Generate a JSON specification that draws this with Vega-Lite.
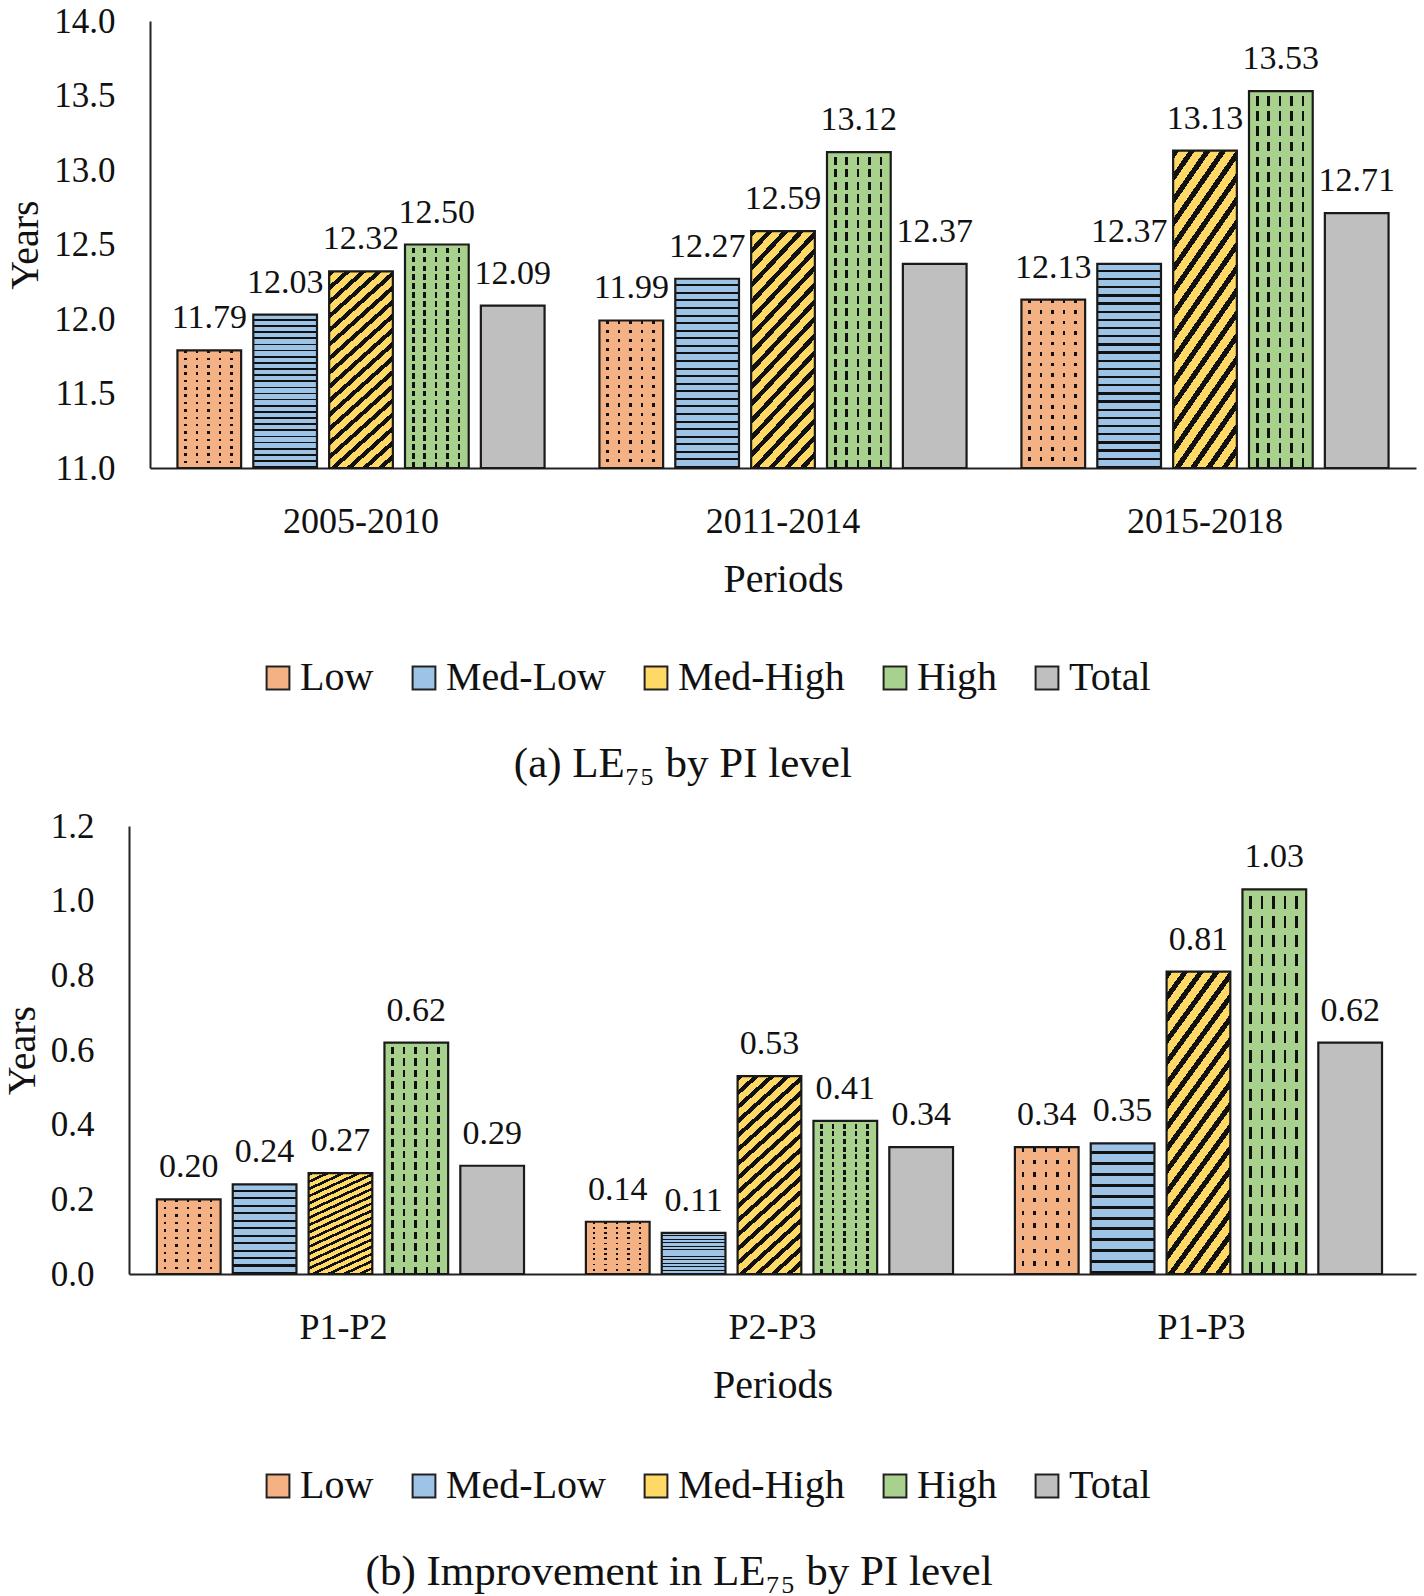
{
  "$schema": "https://vega.github.io/schema/vega-lite/v6.json",
  "padding": {"left": 2, "top": 4, "right": 4, "bottom": 2},
  "spacing": 23,
  "config": {
    "font": "Liberation Serif",
    "view": {"stroke": null},
    "axis": {"labelFont": "Liberation Serif", "titleFont": "Liberation Serif", "labelColor": "#111", "titleColor": "#111", "titleFontWeight": "normal", "domainColor": "#222", "domainWidth": 2, "ticks": false, "grid": false},
    "legend": {"labelFont": "Liberation Serif", "labelFontSize": 40, "labelColor": "#111", "labelLimit": 0, "symbolType": "square", "symbolSize": 520, "symbolStrokeColor": "#222", "symbolStrokeWidth": 2, "direction": "horizontal", "title": null, "columnPadding": 30, "labelOffset": 2},
    "title": {"font": "Liberation Serif", "fontSize": 43, "fontWeight": "normal", "color": "#111", "orient": "bottom", "anchor": "middle", "frame": "bounds"}
  },
  "datasets": {
    "a": [
      {"period": "2005-2010", "level": "Low", "value": 11.79},
      {"period": "2005-2010", "level": "Med-Low", "value": 12.03},
      {"period": "2005-2010", "level": "Med-High", "value": 12.32},
      {"period": "2005-2010", "level": "High", "value": 12.50},
      {"period": "2005-2010", "level": "Total", "value": 12.09},
      {"period": "2011-2014", "level": "Low", "value": 11.99},
      {"period": "2011-2014", "level": "Med-Low", "value": 12.27},
      {"period": "2011-2014", "level": "Med-High", "value": 12.59},
      {"period": "2011-2014", "level": "High", "value": 13.12},
      {"period": "2011-2014", "level": "Total", "value": 12.37},
      {"period": "2015-2018", "level": "Low", "value": 12.13},
      {"period": "2015-2018", "level": "Med-Low", "value": 12.37},
      {"period": "2015-2018", "level": "Med-High", "value": 13.13},
      {"period": "2015-2018", "level": "High", "value": 13.53},
      {"period": "2015-2018", "level": "Total", "value": 12.71}
    ],
    "b": [
      {"period": "P1-P2", "level": "Low", "value": 0.20},
      {"period": "P1-P2", "level": "Med-Low", "value": 0.24},
      {"period": "P1-P2", "level": "Med-High", "value": 0.27},
      {"period": "P1-P2", "level": "High", "value": 0.62},
      {"period": "P1-P2", "level": "Total", "value": 0.29},
      {"period": "P2-P3", "level": "Low", "value": 0.14},
      {"period": "P2-P3", "level": "Med-Low", "value": 0.11},
      {"period": "P2-P3", "level": "Med-High", "value": 0.53},
      {"period": "P2-P3", "level": "High", "value": 0.41},
      {"period": "P2-P3", "level": "Total", "value": 0.34},
      {"period": "P1-P3", "level": "Low", "value": 0.34},
      {"period": "P1-P3", "level": "Med-Low", "value": 0.35},
      {"period": "P1-P3", "level": "Med-High", "value": 0.81},
      {"period": "P1-P3", "level": "High", "value": 1.03},
      {"period": "P1-P3", "level": "Total", "value": 0.62}
    ]
  },
  "vconcat": [
    {
      "width": 1287,
      "height": 447,
      "data": {"name": "a"},
      "title": {"text": "(a) LE₇₅ by PI level", "offset": 45, "dx": -28},
      "encoding": {
        "x": {"field": "period", "type": "nominal", "sort": null,
              "scale": {"range": [21, 1287], "paddingInner": 0.13, "paddingOuter": 0.065},
              "axis": {"title": "Periods", "labelAngle": 0, "labelFontSize": 36, "titleFontSize": 40, "labelPadding": 36, "titlePadding": 20}},
        "xOffset": {"field": "level", "scale": {"domain": ["Low", "Med-Low", "Med-High", "High", "Total"], "paddingInner": 0.16}},
        "y": {"field": "value", "type": "quantitative", "scale": {"domain": [11, 14], "nice": false, "zero": false},
              "axis": {"title": "Years", "offset": -21, "values": [11, 11.5, 12, 12.5, 13, 13.5, 14], "format": ".1f", "labelFontSize": 35, "titleFontSize": 40, "labelPadding": 35, "titlePadding": 8}}
      },
      "layer": [
        {
          "mark": {"type": "bar", "strokeWidth": 0},
          "encoding": {
            "y2": {"datum": 11},
            "color": {"field": "level", "type": "nominal",
                      "scale": {"domain": ["Low", "Med-Low", "Med-High", "High", "Total"], "range": ["#F4B183", "#9DC3E6", "#FFD966", "#A9D18E", "#BFBFBF"]},
                      "legend": {"orient": "none", "legendX": 129, "legendY": 637}}
          }
        },
        {
          "transform": [{"filter": "datum.level === 'Low' || datum.level === 'High'"}],
          "mark": {"type": "bar", "fill": {"gradient": "linear", "x1": 0, "y1": 0, "x2": 1, "y2": 0, "stops": [
            {"offset": 0, "color": "rgba(0,0,0,0)"}, {"offset": 0.11, "color": "rgba(0,0,0,0)"}, {"offset": 0.11, "color": "#111"}, {"offset": 0.15, "color": "#111"},
            {"offset": 0.15, "color": "rgba(0,0,0,0)"}, {"offset": 0.29, "color": "rgba(0,0,0,0)"}, {"offset": 0.29, "color": "#111"}, {"offset": 0.33, "color": "#111"},
            {"offset": 0.33, "color": "rgba(0,0,0,0)"}, {"offset": 0.47, "color": "rgba(0,0,0,0)"}, {"offset": 0.47, "color": "#111"}, {"offset": 0.51, "color": "#111"},
            {"offset": 0.51, "color": "rgba(0,0,0,0)"}, {"offset": 0.65, "color": "rgba(0,0,0,0)"}, {"offset": 0.65, "color": "#111"}, {"offset": 0.69, "color": "#111"},
            {"offset": 0.69, "color": "rgba(0,0,0,0)"}, {"offset": 0.83, "color": "rgba(0,0,0,0)"}, {"offset": 0.83, "color": "#111"}, {"offset": 0.87, "color": "#111"},
            {"offset": 0.87, "color": "rgba(0,0,0,0)"}, {"offset": 1, "color": "rgba(0,0,0,0)"}]}},
          "encoding": {"y2": {"datum": 11}}
        },
        {
          "transform": [{"filter": "datum.level === 'Low'"}],
          "mark": {"type": "bar", "fill": {"gradient": "linear", "x1": 0, "y1": 0, "x2": 0, "y2": 1, "stops": [
            {"offset": 0, "color": "rgba(0,0,0,0)"}, {"offset": 0.022, "color": "rgba(0,0,0,0)"}, {"offset": 0.022, "color": "#F4B183"}, {"offset": 0.0625, "color": "#F4B183"},
            {"offset": 0.0625, "color": "rgba(0,0,0,0)"}, {"offset": 0.0845, "color": "rgba(0,0,0,0)"}, {"offset": 0.0845, "color": "#F4B183"}, {"offset": 0.125, "color": "#F4B183"},
            {"offset": 0.125, "color": "rgba(0,0,0,0)"}, {"offset": 0.147, "color": "rgba(0,0,0,0)"}, {"offset": 0.147, "color": "#F4B183"}, {"offset": 0.1875, "color": "#F4B183"},
            {"offset": 0.1875, "color": "rgba(0,0,0,0)"}, {"offset": 0.2095, "color": "rgba(0,0,0,0)"}, {"offset": 0.2095, "color": "#F4B183"}, {"offset": 0.25, "color": "#F4B183"},
            {"offset": 0.25, "color": "rgba(0,0,0,0)"}, {"offset": 0.272, "color": "rgba(0,0,0,0)"}, {"offset": 0.272, "color": "#F4B183"}, {"offset": 0.3125, "color": "#F4B183"},
            {"offset": 0.3125, "color": "rgba(0,0,0,0)"}, {"offset": 0.3345, "color": "rgba(0,0,0,0)"}, {"offset": 0.3345, "color": "#F4B183"}, {"offset": 0.375, "color": "#F4B183"},
            {"offset": 0.375, "color": "rgba(0,0,0,0)"}, {"offset": 0.397, "color": "rgba(0,0,0,0)"}, {"offset": 0.397, "color": "#F4B183"}, {"offset": 0.4375, "color": "#F4B183"},
            {"offset": 0.4375, "color": "rgba(0,0,0,0)"}, {"offset": 0.4595, "color": "rgba(0,0,0,0)"}, {"offset": 0.4595, "color": "#F4B183"}, {"offset": 0.5, "color": "#F4B183"},
            {"offset": 0.5, "color": "rgba(0,0,0,0)"}, {"offset": 0.522, "color": "rgba(0,0,0,0)"}, {"offset": 0.522, "color": "#F4B183"}, {"offset": 0.5625, "color": "#F4B183"},
            {"offset": 0.5625, "color": "rgba(0,0,0,0)"}, {"offset": 0.5845, "color": "rgba(0,0,0,0)"}, {"offset": 0.5845, "color": "#F4B183"}, {"offset": 0.625, "color": "#F4B183"},
            {"offset": 0.625, "color": "rgba(0,0,0,0)"}, {"offset": 0.647, "color": "rgba(0,0,0,0)"}, {"offset": 0.647, "color": "#F4B183"}, {"offset": 0.6875, "color": "#F4B183"},
            {"offset": 0.6875, "color": "rgba(0,0,0,0)"}, {"offset": 0.7095, "color": "rgba(0,0,0,0)"}, {"offset": 0.7095, "color": "#F4B183"}, {"offset": 0.75, "color": "#F4B183"},
            {"offset": 0.75, "color": "rgba(0,0,0,0)"}, {"offset": 0.772, "color": "rgba(0,0,0,0)"}, {"offset": 0.772, "color": "#F4B183"}, {"offset": 0.8125, "color": "#F4B183"},
            {"offset": 0.8125, "color": "rgba(0,0,0,0)"}, {"offset": 0.8345, "color": "rgba(0,0,0,0)"}, {"offset": 0.8345, "color": "#F4B183"}, {"offset": 0.875, "color": "#F4B183"},
            {"offset": 0.875, "color": "rgba(0,0,0,0)"}, {"offset": 0.897, "color": "rgba(0,0,0,0)"}, {"offset": 0.897, "color": "#F4B183"}, {"offset": 0.9375, "color": "#F4B183"},
            {"offset": 0.9375, "color": "rgba(0,0,0,0)"}, {"offset": 0.9595, "color": "rgba(0,0,0,0)"}, {"offset": 0.9595, "color": "#F4B183"}, {"offset": 1, "color": "#F4B183"}]}},
          "encoding": {"y2": {"datum": 11}}
        },
        {
          "transform": [{"filter": "datum.level === 'High'"}],
          "mark": {"type": "bar", "fill": {"gradient": "linear", "x1": 0, "y1": 0, "x2": 0, "y2": 1, "stops": [
            {"offset": 0, "color": "#A9D18E"}, {"offset": 0.014, "color": "#A9D18E"}, {"offset": 0.014, "color": "rgba(0,0,0,0)"}, {"offset": 0.04, "color": "rgba(0,0,0,0)"},
            {"offset": 0.04, "color": "#A9D18E"}, {"offset": 0.054, "color": "#A9D18E"}, {"offset": 0.054, "color": "rgba(0,0,0,0)"}, {"offset": 0.08, "color": "rgba(0,0,0,0)"},
            {"offset": 0.08, "color": "#A9D18E"}, {"offset": 0.094, "color": "#A9D18E"}, {"offset": 0.094, "color": "rgba(0,0,0,0)"}, {"offset": 0.12, "color": "rgba(0,0,0,0)"},
            {"offset": 0.12, "color": "#A9D18E"}, {"offset": 0.134, "color": "#A9D18E"}, {"offset": 0.134, "color": "rgba(0,0,0,0)"}, {"offset": 0.16, "color": "rgba(0,0,0,0)"},
            {"offset": 0.16, "color": "#A9D18E"}, {"offset": 0.174, "color": "#A9D18E"}, {"offset": 0.174, "color": "rgba(0,0,0,0)"}, {"offset": 0.2, "color": "rgba(0,0,0,0)"},
            {"offset": 0.2, "color": "#A9D18E"}, {"offset": 0.214, "color": "#A9D18E"}, {"offset": 0.214, "color": "rgba(0,0,0,0)"}, {"offset": 0.24, "color": "rgba(0,0,0,0)"},
            {"offset": 0.24, "color": "#A9D18E"}, {"offset": 0.254, "color": "#A9D18E"}, {"offset": 0.254, "color": "rgba(0,0,0,0)"}, {"offset": 0.28, "color": "rgba(0,0,0,0)"},
            {"offset": 0.28, "color": "#A9D18E"}, {"offset": 0.294, "color": "#A9D18E"}, {"offset": 0.294, "color": "rgba(0,0,0,0)"}, {"offset": 0.32, "color": "rgba(0,0,0,0)"},
            {"offset": 0.32, "color": "#A9D18E"}, {"offset": 0.334, "color": "#A9D18E"}, {"offset": 0.334, "color": "rgba(0,0,0,0)"}, {"offset": 0.36, "color": "rgba(0,0,0,0)"},
            {"offset": 0.36, "color": "#A9D18E"}, {"offset": 0.374, "color": "#A9D18E"}, {"offset": 0.374, "color": "rgba(0,0,0,0)"}, {"offset": 0.4, "color": "rgba(0,0,0,0)"},
            {"offset": 0.4, "color": "#A9D18E"}, {"offset": 0.414, "color": "#A9D18E"}, {"offset": 0.414, "color": "rgba(0,0,0,0)"}, {"offset": 0.44, "color": "rgba(0,0,0,0)"},
            {"offset": 0.44, "color": "#A9D18E"}, {"offset": 0.454, "color": "#A9D18E"}, {"offset": 0.454, "color": "rgba(0,0,0,0)"}, {"offset": 0.48, "color": "rgba(0,0,0,0)"},
            {"offset": 0.48, "color": "#A9D18E"}, {"offset": 0.494, "color": "#A9D18E"}, {"offset": 0.494, "color": "rgba(0,0,0,0)"}, {"offset": 0.52, "color": "rgba(0,0,0,0)"},
            {"offset": 0.52, "color": "#A9D18E"}, {"offset": 0.534, "color": "#A9D18E"}, {"offset": 0.534, "color": "rgba(0,0,0,0)"}, {"offset": 0.56, "color": "rgba(0,0,0,0)"},
            {"offset": 0.56, "color": "#A9D18E"}, {"offset": 0.574, "color": "#A9D18E"}, {"offset": 0.574, "color": "rgba(0,0,0,0)"}, {"offset": 0.6, "color": "rgba(0,0,0,0)"},
            {"offset": 0.6, "color": "#A9D18E"}, {"offset": 0.614, "color": "#A9D18E"}, {"offset": 0.614, "color": "rgba(0,0,0,0)"}, {"offset": 0.64, "color": "rgba(0,0,0,0)"},
            {"offset": 0.64, "color": "#A9D18E"}, {"offset": 0.654, "color": "#A9D18E"}, {"offset": 0.654, "color": "rgba(0,0,0,0)"}, {"offset": 0.68, "color": "rgba(0,0,0,0)"},
            {"offset": 0.68, "color": "#A9D18E"}, {"offset": 0.694, "color": "#A9D18E"}, {"offset": 0.694, "color": "rgba(0,0,0,0)"}, {"offset": 0.72, "color": "rgba(0,0,0,0)"},
            {"offset": 0.72, "color": "#A9D18E"}, {"offset": 0.734, "color": "#A9D18E"}, {"offset": 0.734, "color": "rgba(0,0,0,0)"}, {"offset": 0.76, "color": "rgba(0,0,0,0)"},
            {"offset": 0.76, "color": "#A9D18E"}, {"offset": 0.774, "color": "#A9D18E"}, {"offset": 0.774, "color": "rgba(0,0,0,0)"}, {"offset": 0.8, "color": "rgba(0,0,0,0)"},
            {"offset": 0.8, "color": "#A9D18E"}, {"offset": 0.814, "color": "#A9D18E"}, {"offset": 0.814, "color": "rgba(0,0,0,0)"}, {"offset": 0.84, "color": "rgba(0,0,0,0)"},
            {"offset": 0.84, "color": "#A9D18E"}, {"offset": 0.854, "color": "#A9D18E"}, {"offset": 0.854, "color": "rgba(0,0,0,0)"}, {"offset": 0.88, "color": "rgba(0,0,0,0)"},
            {"offset": 0.88, "color": "#A9D18E"}, {"offset": 0.894, "color": "#A9D18E"}, {"offset": 0.894, "color": "rgba(0,0,0,0)"}, {"offset": 0.92, "color": "rgba(0,0,0,0)"},
            {"offset": 0.92, "color": "#A9D18E"}, {"offset": 0.934, "color": "#A9D18E"}, {"offset": 0.934, "color": "rgba(0,0,0,0)"}, {"offset": 0.96, "color": "rgba(0,0,0,0)"},
            {"offset": 0.96, "color": "#A9D18E"}, {"offset": 0.974, "color": "#A9D18E"}, {"offset": 0.974, "color": "rgba(0,0,0,0)"}, {"offset": 1, "color": "rgba(0,0,0,0)"}]}},
          "encoding": {"y2": {"datum": 11}}
        },
        {
          "transform": [{"filter": "datum.level === 'Med-Low'"}],
          "mark": {"type": "bar", "fill": {"gradient": "linear", "x1": 0, "y1": 0, "x2": 0, "y2": 1, "stops": [
            {"offset": 0, "color": "rgba(0,0,0,0)"}, {"offset": 0.029, "color": "rgba(0,0,0,0)"}, {"offset": 0.029, "color": "#111"}, {"offset": 0.04, "color": "#111"},
            {"offset": 0.04, "color": "rgba(0,0,0,0)"}, {"offset": 0.069, "color": "rgba(0,0,0,0)"}, {"offset": 0.069, "color": "#111"}, {"offset": 0.08, "color": "#111"},
            {"offset": 0.08, "color": "rgba(0,0,0,0)"}, {"offset": 0.109, "color": "rgba(0,0,0,0)"}, {"offset": 0.109, "color": "#111"}, {"offset": 0.12, "color": "#111"},
            {"offset": 0.12, "color": "rgba(0,0,0,0)"}, {"offset": 0.149, "color": "rgba(0,0,0,0)"}, {"offset": 0.149, "color": "#111"}, {"offset": 0.16, "color": "#111"},
            {"offset": 0.16, "color": "rgba(0,0,0,0)"}, {"offset": 0.189, "color": "rgba(0,0,0,0)"}, {"offset": 0.189, "color": "#111"}, {"offset": 0.2, "color": "#111"},
            {"offset": 0.2, "color": "rgba(0,0,0,0)"}, {"offset": 0.229, "color": "rgba(0,0,0,0)"}, {"offset": 0.229, "color": "#111"}, {"offset": 0.24, "color": "#111"},
            {"offset": 0.24, "color": "rgba(0,0,0,0)"}, {"offset": 0.269, "color": "rgba(0,0,0,0)"}, {"offset": 0.269, "color": "#111"}, {"offset": 0.28, "color": "#111"},
            {"offset": 0.28, "color": "rgba(0,0,0,0)"}, {"offset": 0.309, "color": "rgba(0,0,0,0)"}, {"offset": 0.309, "color": "#111"}, {"offset": 0.32, "color": "#111"},
            {"offset": 0.32, "color": "rgba(0,0,0,0)"}, {"offset": 0.349, "color": "rgba(0,0,0,0)"}, {"offset": 0.349, "color": "#111"}, {"offset": 0.36, "color": "#111"},
            {"offset": 0.36, "color": "rgba(0,0,0,0)"}, {"offset": 0.389, "color": "rgba(0,0,0,0)"}, {"offset": 0.389, "color": "#111"}, {"offset": 0.4, "color": "#111"},
            {"offset": 0.4, "color": "rgba(0,0,0,0)"}, {"offset": 0.429, "color": "rgba(0,0,0,0)"}, {"offset": 0.429, "color": "#111"}, {"offset": 0.44, "color": "#111"},
            {"offset": 0.44, "color": "rgba(0,0,0,0)"}, {"offset": 0.469, "color": "rgba(0,0,0,0)"}, {"offset": 0.469, "color": "#111"}, {"offset": 0.48, "color": "#111"},
            {"offset": 0.48, "color": "rgba(0,0,0,0)"}, {"offset": 0.509, "color": "rgba(0,0,0,0)"}, {"offset": 0.509, "color": "#111"}, {"offset": 0.52, "color": "#111"},
            {"offset": 0.52, "color": "rgba(0,0,0,0)"}, {"offset": 0.549, "color": "rgba(0,0,0,0)"}, {"offset": 0.549, "color": "#111"}, {"offset": 0.56, "color": "#111"},
            {"offset": 0.56, "color": "rgba(0,0,0,0)"}, {"offset": 0.589, "color": "rgba(0,0,0,0)"}, {"offset": 0.589, "color": "#111"}, {"offset": 0.6, "color": "#111"},
            {"offset": 0.6, "color": "rgba(0,0,0,0)"}, {"offset": 0.629, "color": "rgba(0,0,0,0)"}, {"offset": 0.629, "color": "#111"}, {"offset": 0.64, "color": "#111"},
            {"offset": 0.64, "color": "rgba(0,0,0,0)"}, {"offset": 0.669, "color": "rgba(0,0,0,0)"}, {"offset": 0.669, "color": "#111"}, {"offset": 0.68, "color": "#111"},
            {"offset": 0.68, "color": "rgba(0,0,0,0)"}, {"offset": 0.709, "color": "rgba(0,0,0,0)"}, {"offset": 0.709, "color": "#111"}, {"offset": 0.72, "color": "#111"},
            {"offset": 0.72, "color": "rgba(0,0,0,0)"}, {"offset": 0.749, "color": "rgba(0,0,0,0)"}, {"offset": 0.749, "color": "#111"}, {"offset": 0.76, "color": "#111"},
            {"offset": 0.76, "color": "rgba(0,0,0,0)"}, {"offset": 0.789, "color": "rgba(0,0,0,0)"}, {"offset": 0.789, "color": "#111"}, {"offset": 0.8, "color": "#111"},
            {"offset": 0.8, "color": "rgba(0,0,0,0)"}, {"offset": 0.829, "color": "rgba(0,0,0,0)"}, {"offset": 0.829, "color": "#111"}, {"offset": 0.84, "color": "#111"},
            {"offset": 0.84, "color": "rgba(0,0,0,0)"}, {"offset": 0.869, "color": "rgba(0,0,0,0)"}, {"offset": 0.869, "color": "#111"}, {"offset": 0.88, "color": "#111"},
            {"offset": 0.88, "color": "rgba(0,0,0,0)"}, {"offset": 0.909, "color": "rgba(0,0,0,0)"}, {"offset": 0.909, "color": "#111"}, {"offset": 0.92, "color": "#111"},
            {"offset": 0.92, "color": "rgba(0,0,0,0)"}, {"offset": 0.949, "color": "rgba(0,0,0,0)"}, {"offset": 0.949, "color": "#111"}, {"offset": 0.96, "color": "#111"},
            {"offset": 0.96, "color": "rgba(0,0,0,0)"}, {"offset": 0.989, "color": "rgba(0,0,0,0)"}, {"offset": 0.989, "color": "#111"}, {"offset": 1, "color": "#111"}]}},
          "encoding": {"y2": {"datum": 11}}
        },
        {
          "transform": [{"filter": "datum.level === 'Med-High'"}],
          "mark": {"type": "bar", "fill": {"gradient": "linear", "x1": 0, "y1": 0, "x2": 0.345, "y2": 1.19, "stops": [
            {"offset": 0, "color": "#111"}, {"offset": 0.022, "color": "#111"}, {"offset": 0.022, "color": "rgba(0,0,0,0)"}, {"offset": 0.0556, "color": "rgba(0,0,0,0)"},
            {"offset": 0.0556, "color": "#111"}, {"offset": 0.0776, "color": "#111"}, {"offset": 0.0776, "color": "rgba(0,0,0,0)"}, {"offset": 0.1111, "color": "rgba(0,0,0,0)"},
            {"offset": 0.1111, "color": "#111"}, {"offset": 0.1331, "color": "#111"}, {"offset": 0.1331, "color": "rgba(0,0,0,0)"}, {"offset": 0.1667, "color": "rgba(0,0,0,0)"},
            {"offset": 0.1667, "color": "#111"}, {"offset": 0.1887, "color": "#111"}, {"offset": 0.1887, "color": "rgba(0,0,0,0)"}, {"offset": 0.2222, "color": "rgba(0,0,0,0)"},
            {"offset": 0.2222, "color": "#111"}, {"offset": 0.2442, "color": "#111"}, {"offset": 0.2442, "color": "rgba(0,0,0,0)"}, {"offset": 0.2778, "color": "rgba(0,0,0,0)"},
            {"offset": 0.2778, "color": "#111"}, {"offset": 0.2998, "color": "#111"}, {"offset": 0.2998, "color": "rgba(0,0,0,0)"}, {"offset": 0.3333, "color": "rgba(0,0,0,0)"},
            {"offset": 0.3333, "color": "#111"}, {"offset": 0.3553, "color": "#111"}, {"offset": 0.3553, "color": "rgba(0,0,0,0)"}, {"offset": 0.3889, "color": "rgba(0,0,0,0)"},
            {"offset": 0.3889, "color": "#111"}, {"offset": 0.4109, "color": "#111"}, {"offset": 0.4109, "color": "rgba(0,0,0,0)"}, {"offset": 0.4444, "color": "rgba(0,0,0,0)"},
            {"offset": 0.4444, "color": "#111"}, {"offset": 0.4664, "color": "#111"}, {"offset": 0.4664, "color": "rgba(0,0,0,0)"}, {"offset": 0.5, "color": "rgba(0,0,0,0)"},
            {"offset": 0.5, "color": "#111"}, {"offset": 0.522, "color": "#111"}, {"offset": 0.522, "color": "rgba(0,0,0,0)"}, {"offset": 0.5556, "color": "rgba(0,0,0,0)"},
            {"offset": 0.5556, "color": "#111"}, {"offset": 0.5776, "color": "#111"}, {"offset": 0.5776, "color": "rgba(0,0,0,0)"}, {"offset": 0.6111, "color": "rgba(0,0,0,0)"},
            {"offset": 0.6111, "color": "#111"}, {"offset": 0.6331, "color": "#111"}, {"offset": 0.6331, "color": "rgba(0,0,0,0)"}, {"offset": 0.6667, "color": "rgba(0,0,0,0)"},
            {"offset": 0.6667, "color": "#111"}, {"offset": 0.6887, "color": "#111"}, {"offset": 0.6887, "color": "rgba(0,0,0,0)"}, {"offset": 0.7222, "color": "rgba(0,0,0,0)"},
            {"offset": 0.7222, "color": "#111"}, {"offset": 0.7442, "color": "#111"}, {"offset": 0.7442, "color": "rgba(0,0,0,0)"}, {"offset": 0.7778, "color": "rgba(0,0,0,0)"},
            {"offset": 0.7778, "color": "#111"}, {"offset": 0.7998, "color": "#111"}, {"offset": 0.7998, "color": "rgba(0,0,0,0)"}, {"offset": 0.8333, "color": "rgba(0,0,0,0)"},
            {"offset": 0.8333, "color": "#111"}, {"offset": 0.8553, "color": "#111"}, {"offset": 0.8553, "color": "rgba(0,0,0,0)"}, {"offset": 0.8889, "color": "rgba(0,0,0,0)"},
            {"offset": 0.8889, "color": "#111"}, {"offset": 0.9109, "color": "#111"}, {"offset": 0.9109, "color": "rgba(0,0,0,0)"}, {"offset": 0.9444, "color": "rgba(0,0,0,0)"},
            {"offset": 0.9444, "color": "#111"}, {"offset": 0.9664, "color": "#111"}, {"offset": 0.9664, "color": "rgba(0,0,0,0)"}, {"offset": 1, "color": "rgba(0,0,0,0)"}]}},
          "encoding": {"y2": {"datum": 11}}
        },
        {
          "mark": {"type": "bar", "fill": "transparent", "stroke": "#1a1a1a", "strokeWidth": 2.2},
          "encoding": {"y2": {"datum": 11}}
        },
        {
          "mark": {"type": "text", "baseline": "alphabetic", "dy": -22, "fontSize": 34, "color": "#111"},
          "encoding": {"text": {"field": "value", "type": "quantitative", "format": ".2f"}}
        }
      ]
    },
    {
      "width": 1287,
      "height": 448,
      "data": {"name": "b"},
      "title": {"text": "(b) Improvement in LE₇₅ by PI level", "offset": 45, "dx": -30},
      "encoding": {
        "x": {"field": "period", "type": "nominal", "sort": null,
              "scale": {"paddingInner": 0.13, "paddingOuter": 0.065},
              "axis": {"title": "Periods", "labelAngle": 0, "labelFontSize": 36, "titleFontSize": 40, "labelPadding": 36, "titlePadding": 20}},
        "xOffset": {"field": "level", "scale": {"domain": ["Low", "Med-Low", "Med-High", "High", "Total"], "paddingInner": 0.16}},
        "y": {"field": "value", "type": "quantitative", "scale": {"domain": [0, 1.2], "nice": false},
              "axis": {"title": "Years", "values": [0, 0.2, 0.4, 0.6, 0.8, 1.0, 1.2], "format": ".1f", "labelFontSize": 35, "titleFontSize": 40, "labelPadding": 35, "titlePadding": 8}}
      },
      "layer": [
        {
          "mark": {"type": "bar", "strokeWidth": 0},
          "encoding": {
            "color": {"field": "level", "type": "nominal",
                      "scale": {"domain": ["Low", "Med-Low", "Med-High", "High", "Total"], "range": ["#F4B183", "#9DC3E6", "#FFD966", "#A9D18E", "#BFBFBF"]},
                      "legend": {"orient": "none", "legendX": 129, "legendY": 640}}
          }
        },
        {
          "transform": [{"filter": "datum.level === 'Low' || datum.level === 'High'"}],
          "mark": {"type": "bar", "fill": {"gradient": "linear", "x1": 0, "y1": 0, "x2": 1, "y2": 0, "stops": [
            {"offset": 0, "color": "rgba(0,0,0,0)"}, {"offset": 0.11, "color": "rgba(0,0,0,0)"}, {"offset": 0.11, "color": "#111"}, {"offset": 0.15, "color": "#111"},
            {"offset": 0.15, "color": "rgba(0,0,0,0)"}, {"offset": 0.29, "color": "rgba(0,0,0,0)"}, {"offset": 0.29, "color": "#111"}, {"offset": 0.33, "color": "#111"},
            {"offset": 0.33, "color": "rgba(0,0,0,0)"}, {"offset": 0.47, "color": "rgba(0,0,0,0)"}, {"offset": 0.47, "color": "#111"}, {"offset": 0.51, "color": "#111"},
            {"offset": 0.51, "color": "rgba(0,0,0,0)"}, {"offset": 0.65, "color": "rgba(0,0,0,0)"}, {"offset": 0.65, "color": "#111"}, {"offset": 0.69, "color": "#111"},
            {"offset": 0.69, "color": "rgba(0,0,0,0)"}, {"offset": 0.83, "color": "rgba(0,0,0,0)"}, {"offset": 0.83, "color": "#111"}, {"offset": 0.87, "color": "#111"},
            {"offset": 0.87, "color": "rgba(0,0,0,0)"}, {"offset": 1, "color": "rgba(0,0,0,0)"}]}}
        },
        {
          "transform": [{"filter": "datum.level === 'Low'"}],
          "mark": {"type": "bar", "fill": {"gradient": "linear", "x1": 0, "y1": 0, "x2": 0, "y2": 1, "stops": [
            {"offset": 0, "color": "rgba(0,0,0,0)"}, {"offset": 0.035, "color": "rgba(0,0,0,0)"}, {"offset": 0.035, "color": "#F4B183"}, {"offset": 0.1, "color": "#F4B183"},
            {"offset": 0.1, "color": "rgba(0,0,0,0)"}, {"offset": 0.135, "color": "rgba(0,0,0,0)"}, {"offset": 0.135, "color": "#F4B183"}, {"offset": 0.2, "color": "#F4B183"},
            {"offset": 0.2, "color": "rgba(0,0,0,0)"}, {"offset": 0.235, "color": "rgba(0,0,0,0)"}, {"offset": 0.235, "color": "#F4B183"}, {"offset": 0.3, "color": "#F4B183"},
            {"offset": 0.3, "color": "rgba(0,0,0,0)"}, {"offset": 0.335, "color": "rgba(0,0,0,0)"}, {"offset": 0.335, "color": "#F4B183"}, {"offset": 0.4, "color": "#F4B183"},
            {"offset": 0.4, "color": "rgba(0,0,0,0)"}, {"offset": 0.435, "color": "rgba(0,0,0,0)"}, {"offset": 0.435, "color": "#F4B183"}, {"offset": 0.5, "color": "#F4B183"},
            {"offset": 0.5, "color": "rgba(0,0,0,0)"}, {"offset": 0.535, "color": "rgba(0,0,0,0)"}, {"offset": 0.535, "color": "#F4B183"}, {"offset": 0.6, "color": "#F4B183"},
            {"offset": 0.6, "color": "rgba(0,0,0,0)"}, {"offset": 0.635, "color": "rgba(0,0,0,0)"}, {"offset": 0.635, "color": "#F4B183"}, {"offset": 0.7, "color": "#F4B183"},
            {"offset": 0.7, "color": "rgba(0,0,0,0)"}, {"offset": 0.735, "color": "rgba(0,0,0,0)"}, {"offset": 0.735, "color": "#F4B183"}, {"offset": 0.8, "color": "#F4B183"},
            {"offset": 0.8, "color": "rgba(0,0,0,0)"}, {"offset": 0.835, "color": "rgba(0,0,0,0)"}, {"offset": 0.835, "color": "#F4B183"}, {"offset": 0.9, "color": "#F4B183"},
            {"offset": 0.9, "color": "rgba(0,0,0,0)"}, {"offset": 0.935, "color": "rgba(0,0,0,0)"}, {"offset": 0.935, "color": "#F4B183"}, {"offset": 1, "color": "#F4B183"}]}}
        },
        {
          "transform": [{"filter": "datum.level === 'High'"}],
          "mark": {"type": "bar", "fill": {"gradient": "linear", "x1": 0, "y1": 0, "x2": 0, "y2": 1, "stops": [
            {"offset": 0, "color": "#A9D18E"}, {"offset": 0.018, "color": "#A9D18E"}, {"offset": 0.018, "color": "rgba(0,0,0,0)"}, {"offset": 0.05, "color": "rgba(0,0,0,0)"},
            {"offset": 0.05, "color": "#A9D18E"}, {"offset": 0.068, "color": "#A9D18E"}, {"offset": 0.068, "color": "rgba(0,0,0,0)"}, {"offset": 0.1, "color": "rgba(0,0,0,0)"},
            {"offset": 0.1, "color": "#A9D18E"}, {"offset": 0.118, "color": "#A9D18E"}, {"offset": 0.118, "color": "rgba(0,0,0,0)"}, {"offset": 0.15, "color": "rgba(0,0,0,0)"},
            {"offset": 0.15, "color": "#A9D18E"}, {"offset": 0.168, "color": "#A9D18E"}, {"offset": 0.168, "color": "rgba(0,0,0,0)"}, {"offset": 0.2, "color": "rgba(0,0,0,0)"},
            {"offset": 0.2, "color": "#A9D18E"}, {"offset": 0.218, "color": "#A9D18E"}, {"offset": 0.218, "color": "rgba(0,0,0,0)"}, {"offset": 0.25, "color": "rgba(0,0,0,0)"},
            {"offset": 0.25, "color": "#A9D18E"}, {"offset": 0.268, "color": "#A9D18E"}, {"offset": 0.268, "color": "rgba(0,0,0,0)"}, {"offset": 0.3, "color": "rgba(0,0,0,0)"},
            {"offset": 0.3, "color": "#A9D18E"}, {"offset": 0.318, "color": "#A9D18E"}, {"offset": 0.318, "color": "rgba(0,0,0,0)"}, {"offset": 0.35, "color": "rgba(0,0,0,0)"},
            {"offset": 0.35, "color": "#A9D18E"}, {"offset": 0.368, "color": "#A9D18E"}, {"offset": 0.368, "color": "rgba(0,0,0,0)"}, {"offset": 0.4, "color": "rgba(0,0,0,0)"},
            {"offset": 0.4, "color": "#A9D18E"}, {"offset": 0.418, "color": "#A9D18E"}, {"offset": 0.418, "color": "rgba(0,0,0,0)"}, {"offset": 0.45, "color": "rgba(0,0,0,0)"},
            {"offset": 0.45, "color": "#A9D18E"}, {"offset": 0.468, "color": "#A9D18E"}, {"offset": 0.468, "color": "rgba(0,0,0,0)"}, {"offset": 0.5, "color": "rgba(0,0,0,0)"},
            {"offset": 0.5, "color": "#A9D18E"}, {"offset": 0.518, "color": "#A9D18E"}, {"offset": 0.518, "color": "rgba(0,0,0,0)"}, {"offset": 0.55, "color": "rgba(0,0,0,0)"},
            {"offset": 0.55, "color": "#A9D18E"}, {"offset": 0.568, "color": "#A9D18E"}, {"offset": 0.568, "color": "rgba(0,0,0,0)"}, {"offset": 0.6, "color": "rgba(0,0,0,0)"},
            {"offset": 0.6, "color": "#A9D18E"}, {"offset": 0.618, "color": "#A9D18E"}, {"offset": 0.618, "color": "rgba(0,0,0,0)"}, {"offset": 0.65, "color": "rgba(0,0,0,0)"},
            {"offset": 0.65, "color": "#A9D18E"}, {"offset": 0.668, "color": "#A9D18E"}, {"offset": 0.668, "color": "rgba(0,0,0,0)"}, {"offset": 0.7, "color": "rgba(0,0,0,0)"},
            {"offset": 0.7, "color": "#A9D18E"}, {"offset": 0.718, "color": "#A9D18E"}, {"offset": 0.718, "color": "rgba(0,0,0,0)"}, {"offset": 0.75, "color": "rgba(0,0,0,0)"},
            {"offset": 0.75, "color": "#A9D18E"}, {"offset": 0.768, "color": "#A9D18E"}, {"offset": 0.768, "color": "rgba(0,0,0,0)"}, {"offset": 0.8, "color": "rgba(0,0,0,0)"},
            {"offset": 0.8, "color": "#A9D18E"}, {"offset": 0.818, "color": "#A9D18E"}, {"offset": 0.818, "color": "rgba(0,0,0,0)"}, {"offset": 0.85, "color": "rgba(0,0,0,0)"},
            {"offset": 0.85, "color": "#A9D18E"}, {"offset": 0.868, "color": "#A9D18E"}, {"offset": 0.868, "color": "rgba(0,0,0,0)"}, {"offset": 0.9, "color": "rgba(0,0,0,0)"},
            {"offset": 0.9, "color": "#A9D18E"}, {"offset": 0.918, "color": "#A9D18E"}, {"offset": 0.918, "color": "rgba(0,0,0,0)"}, {"offset": 0.95, "color": "rgba(0,0,0,0)"},
            {"offset": 0.95, "color": "#A9D18E"}, {"offset": 0.968, "color": "#A9D18E"}, {"offset": 0.968, "color": "rgba(0,0,0,0)"}, {"offset": 1, "color": "rgba(0,0,0,0)"}]}}
        },
        {
          "transform": [{"filter": "datum.level === 'Med-Low'"}],
          "mark": {"type": "bar", "fill": {"gradient": "linear", "x1": 0, "y1": 0, "x2": 0, "y2": 1, "stops": [
            {"offset": 0, "color": "rgba(0,0,0,0)"}, {"offset": 0.06, "color": "rgba(0,0,0,0)"}, {"offset": 0.06, "color": "#111"}, {"offset": 0.0833, "color": "#111"},
            {"offset": 0.0833, "color": "rgba(0,0,0,0)"}, {"offset": 0.1433, "color": "rgba(0,0,0,0)"}, {"offset": 0.1433, "color": "#111"}, {"offset": 0.1667, "color": "#111"},
            {"offset": 0.1667, "color": "rgba(0,0,0,0)"}, {"offset": 0.2267, "color": "rgba(0,0,0,0)"}, {"offset": 0.2267, "color": "#111"}, {"offset": 0.25, "color": "#111"},
            {"offset": 0.25, "color": "rgba(0,0,0,0)"}, {"offset": 0.31, "color": "rgba(0,0,0,0)"}, {"offset": 0.31, "color": "#111"}, {"offset": 0.3333, "color": "#111"},
            {"offset": 0.3333, "color": "rgba(0,0,0,0)"}, {"offset": 0.3933, "color": "rgba(0,0,0,0)"}, {"offset": 0.3933, "color": "#111"}, {"offset": 0.4167, "color": "#111"},
            {"offset": 0.4167, "color": "rgba(0,0,0,0)"}, {"offset": 0.4767, "color": "rgba(0,0,0,0)"}, {"offset": 0.4767, "color": "#111"}, {"offset": 0.5, "color": "#111"},
            {"offset": 0.5, "color": "rgba(0,0,0,0)"}, {"offset": 0.56, "color": "rgba(0,0,0,0)"}, {"offset": 0.56, "color": "#111"}, {"offset": 0.5833, "color": "#111"},
            {"offset": 0.5833, "color": "rgba(0,0,0,0)"}, {"offset": 0.6433, "color": "rgba(0,0,0,0)"}, {"offset": 0.6433, "color": "#111"}, {"offset": 0.6667, "color": "#111"},
            {"offset": 0.6667, "color": "rgba(0,0,0,0)"}, {"offset": 0.7267, "color": "rgba(0,0,0,0)"}, {"offset": 0.7267, "color": "#111"}, {"offset": 0.75, "color": "#111"},
            {"offset": 0.75, "color": "rgba(0,0,0,0)"}, {"offset": 0.81, "color": "rgba(0,0,0,0)"}, {"offset": 0.81, "color": "#111"}, {"offset": 0.8333, "color": "#111"},
            {"offset": 0.8333, "color": "rgba(0,0,0,0)"}, {"offset": 0.8933, "color": "rgba(0,0,0,0)"}, {"offset": 0.8933, "color": "#111"}, {"offset": 0.9167, "color": "#111"},
            {"offset": 0.9167, "color": "rgba(0,0,0,0)"}, {"offset": 0.9767, "color": "rgba(0,0,0,0)"}, {"offset": 0.9767, "color": "#111"}, {"offset": 1, "color": "#111"}]}}
        },
        {
          "transform": [{"filter": "datum.level === 'Med-High'"}],
          "mark": {"type": "bar", "fill": {"gradient": "linear", "x1": 0, "y1": 0, "x2": 0.345, "y2": 1.19, "stops": [
            {"offset": 0, "color": "#111"}, {"offset": 0.022, "color": "#111"}, {"offset": 0.022, "color": "rgba(0,0,0,0)"}, {"offset": 0.0556, "color": "rgba(0,0,0,0)"},
            {"offset": 0.0556, "color": "#111"}, {"offset": 0.0776, "color": "#111"}, {"offset": 0.0776, "color": "rgba(0,0,0,0)"}, {"offset": 0.1111, "color": "rgba(0,0,0,0)"},
            {"offset": 0.1111, "color": "#111"}, {"offset": 0.1331, "color": "#111"}, {"offset": 0.1331, "color": "rgba(0,0,0,0)"}, {"offset": 0.1667, "color": "rgba(0,0,0,0)"},
            {"offset": 0.1667, "color": "#111"}, {"offset": 0.1887, "color": "#111"}, {"offset": 0.1887, "color": "rgba(0,0,0,0)"}, {"offset": 0.2222, "color": "rgba(0,0,0,0)"},
            {"offset": 0.2222, "color": "#111"}, {"offset": 0.2442, "color": "#111"}, {"offset": 0.2442, "color": "rgba(0,0,0,0)"}, {"offset": 0.2778, "color": "rgba(0,0,0,0)"},
            {"offset": 0.2778, "color": "#111"}, {"offset": 0.2998, "color": "#111"}, {"offset": 0.2998, "color": "rgba(0,0,0,0)"}, {"offset": 0.3333, "color": "rgba(0,0,0,0)"},
            {"offset": 0.3333, "color": "#111"}, {"offset": 0.3553, "color": "#111"}, {"offset": 0.3553, "color": "rgba(0,0,0,0)"}, {"offset": 0.3889, "color": "rgba(0,0,0,0)"},
            {"offset": 0.3889, "color": "#111"}, {"offset": 0.4109, "color": "#111"}, {"offset": 0.4109, "color": "rgba(0,0,0,0)"}, {"offset": 0.4444, "color": "rgba(0,0,0,0)"},
            {"offset": 0.4444, "color": "#111"}, {"offset": 0.4664, "color": "#111"}, {"offset": 0.4664, "color": "rgba(0,0,0,0)"}, {"offset": 0.5, "color": "rgba(0,0,0,0)"},
            {"offset": 0.5, "color": "#111"}, {"offset": 0.522, "color": "#111"}, {"offset": 0.522, "color": "rgba(0,0,0,0)"}, {"offset": 0.5556, "color": "rgba(0,0,0,0)"},
            {"offset": 0.5556, "color": "#111"}, {"offset": 0.5776, "color": "#111"}, {"offset": 0.5776, "color": "rgba(0,0,0,0)"}, {"offset": 0.6111, "color": "rgba(0,0,0,0)"},
            {"offset": 0.6111, "color": "#111"}, {"offset": 0.6331, "color": "#111"}, {"offset": 0.6331, "color": "rgba(0,0,0,0)"}, {"offset": 0.6667, "color": "rgba(0,0,0,0)"},
            {"offset": 0.6667, "color": "#111"}, {"offset": 0.6887, "color": "#111"}, {"offset": 0.6887, "color": "rgba(0,0,0,0)"}, {"offset": 0.7222, "color": "rgba(0,0,0,0)"},
            {"offset": 0.7222, "color": "#111"}, {"offset": 0.7442, "color": "#111"}, {"offset": 0.7442, "color": "rgba(0,0,0,0)"}, {"offset": 0.7778, "color": "rgba(0,0,0,0)"},
            {"offset": 0.7778, "color": "#111"}, {"offset": 0.7998, "color": "#111"}, {"offset": 0.7998, "color": "rgba(0,0,0,0)"}, {"offset": 0.8333, "color": "rgba(0,0,0,0)"},
            {"offset": 0.8333, "color": "#111"}, {"offset": 0.8553, "color": "#111"}, {"offset": 0.8553, "color": "rgba(0,0,0,0)"}, {"offset": 0.8889, "color": "rgba(0,0,0,0)"},
            {"offset": 0.8889, "color": "#111"}, {"offset": 0.9109, "color": "#111"}, {"offset": 0.9109, "color": "rgba(0,0,0,0)"}, {"offset": 0.9444, "color": "rgba(0,0,0,0)"},
            {"offset": 0.9444, "color": "#111"}, {"offset": 0.9664, "color": "#111"}, {"offset": 0.9664, "color": "rgba(0,0,0,0)"}, {"offset": 1, "color": "rgba(0,0,0,0)"}]}}
        },
        {
          "mark": {"type": "bar", "fill": "transparent", "stroke": "#1a1a1a", "strokeWidth": 2.2}
        },
        {
          "mark": {"type": "text", "baseline": "alphabetic", "dy": -22, "fontSize": 34, "color": "#111"},
          "encoding": {"text": {"field": "value", "type": "quantitative", "format": ".2f"}}
        }
      ]
    }
  ],
  "resolve": {"scale": {"color": "independent"}, "legend": {"color": "independent"}}
}
